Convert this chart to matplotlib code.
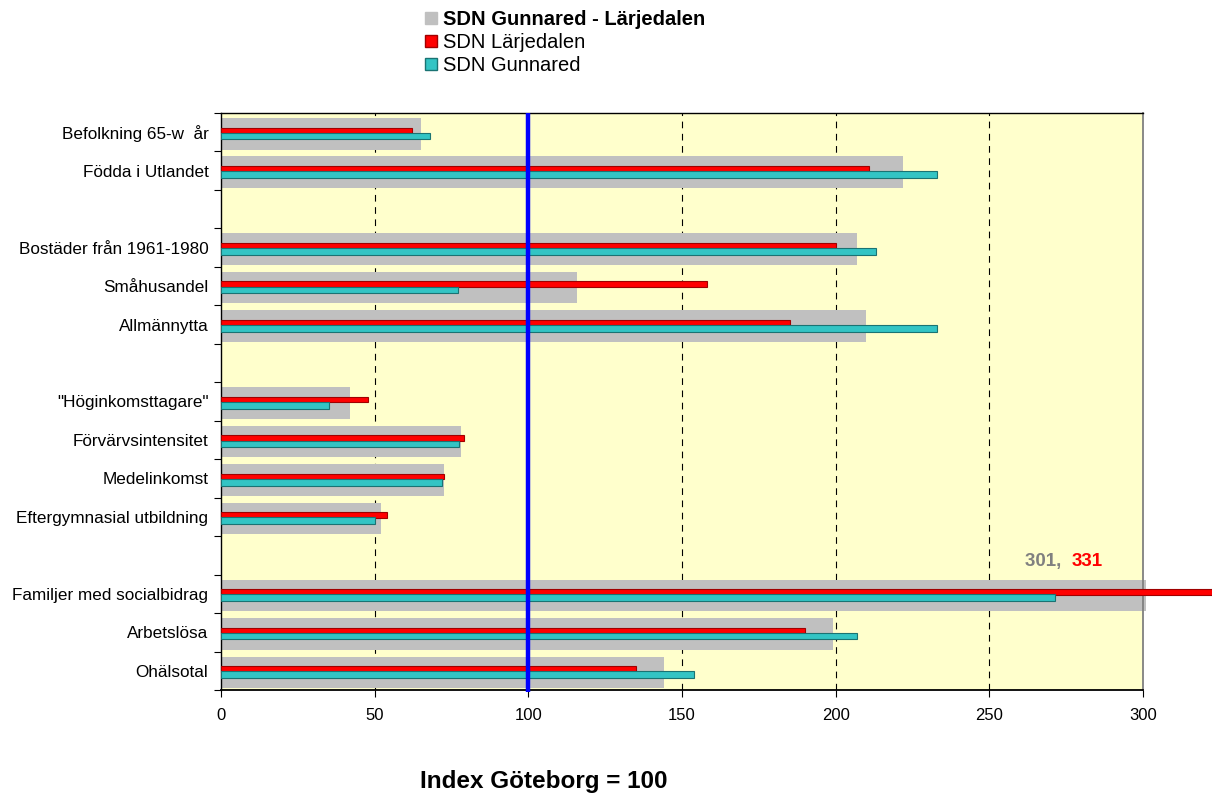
import matplotlib.pyplot as plt
import numpy as np
from matplotlib.patches import Patch

plt.rcParams['font.family'] = ['Liberation Sans', 'DejaVu Sans']

# kategorier uppifrån och ned, tomma rader = mellanrum
categories = ['Befolkning 65-w  år', 'Födda i Utlandet', '',
              'Bostäder från 1961-1980', 'Småhusandel', 'Allmännytta', '',
              '"Höginkomsttagare"', 'Förvärvsintensitet', 'Medelinkomst',
              'Eftergymnasial utbildning', '',
              'Familjer med socialbidrag', 'Arbetslösa', 'Ohälsotal']

# SDN Gunnared - Lärjedalen (grå)
total = [65, 222, None, 207, 116, 210, None, 42, 78, 72.5, 52, None, 301, 199, 144]
# SDN Lärjedalen (röd)
larjedalen = [62, 211, None, 200, 158, 185, None, 48, 79, 72.5, 54, None, 331, 190, 135]
# SDN Gunnared (turkos)
gunnared = [68, 233, None, 213, 77, 233, None, 35, 77.5, 72, 50, None, 271.5, 207, 154]

legend_labels = ['SDN Gunnared - Lärjedalen', 'SDN Lärjedalen', 'SDN Gunnared']


def clean(vals):
    return np.array([np.nan if v is None else v for v in vals], dtype=float)


t = clean(total)
l = clean(larjedalen)
g = clean(gunnared)
pos = np.arange(len(categories))
ok = ~np.isnan(t)

fig = plt.figure(figsize=(12.12, 7.93), dpi=100)
ax = fig.add_axes([0.1823, 0.1299, 0.7608, 0.7276])
ax.set_facecolor('#ffffcc')

# stödlinjer
for x in [50, 150, 200, 250]:
    ax.axvline(x, color='black', lw=0.8, dashes=(6, 5), zorder=1)

ax.barh(pos[ok] + 0.04, t[ok], height=0.82, color='#c0c0c0', zorder=2,
        clip_on=False)
ax.barh(pos[ok] - 0.05, l[ok], height=0.14, color='#ff0000',
        edgecolor='#a00000', lw=0.8, zorder=3, clip_on=False)
ax.barh(pos[ok] + 0.1, g[ok], height=0.17, color='#33c4c4',
        edgecolor='#1a7373', lw=0.8, zorder=3)

# index Göteborg = 100
ax.plot([100, 100], [-0.5, 14.55], color='#0000ff', lw=3.2, zorder=4,
        solid_capstyle='butt', clip_on=False)

ax.set_xlim(0, 300)
ax.set_ylim(14.5, -0.5)
ax.set_xticks(np.arange(0, 301, 50))
ax.set_yticks(np.arange(-0.5, 15, 1))
ax.set_yticklabels([])
ax.set_yticks(pos, minor=True)
ax.set_yticklabels(categories, minor=True)
ax.tick_params(axis='y', which='major', length=5, width=0.8, direction='out')
ax.tick_params(axis='y', which='minor', length=0, pad=9, labelsize=12.3)
ax.tick_params(axis='x', length=5, width=0.8, pad=8, labelsize=12)

for s in ['left', 'top', 'bottom']:
    ax.spines[s].set_color('black')
    ax.spines[s].set_linewidth(1)
ax.spines['bottom'].set_linewidth(1.3)
ax.spines['right'].set_color('#808080')
ax.spines['right'].set_linewidth(1.3)

# värden utanför skalan
ax.text(261.5, 11.15, '301, ', color='#808080', fontsize=13.5, fontweight='bold',
        ha='left', va='center')
ax.text(276.8, 11.15, '331', color='#ff0000', fontsize=13.5, fontweight='bold',
        ha='left', va='center')

fig.text(0.449, 0.0, 'Index Göteborg = 100', ha='center', va='bottom',
         fontsize=17.5, fontweight='bold')

handles = [Patch(color='#c0c0c0'),
           Patch(facecolor='#ff0000', edgecolor='#a00000'),
           Patch(facecolor='#33c4c4', edgecolor='#1a7373')]
leg = fig.legend(handles, legend_labels, loc='upper left',
                 bbox_to_anchor=(0.339, 1.005), frameon=False, fontsize=14.5,
                 handlelength=0.6, handleheight=0.6, handletextpad=0.3,
                 labelspacing=0.2, borderaxespad=0.3)
leg.get_texts()[0].set_fontweight('bold')

fig.savefig('out.png', dpi=100)
